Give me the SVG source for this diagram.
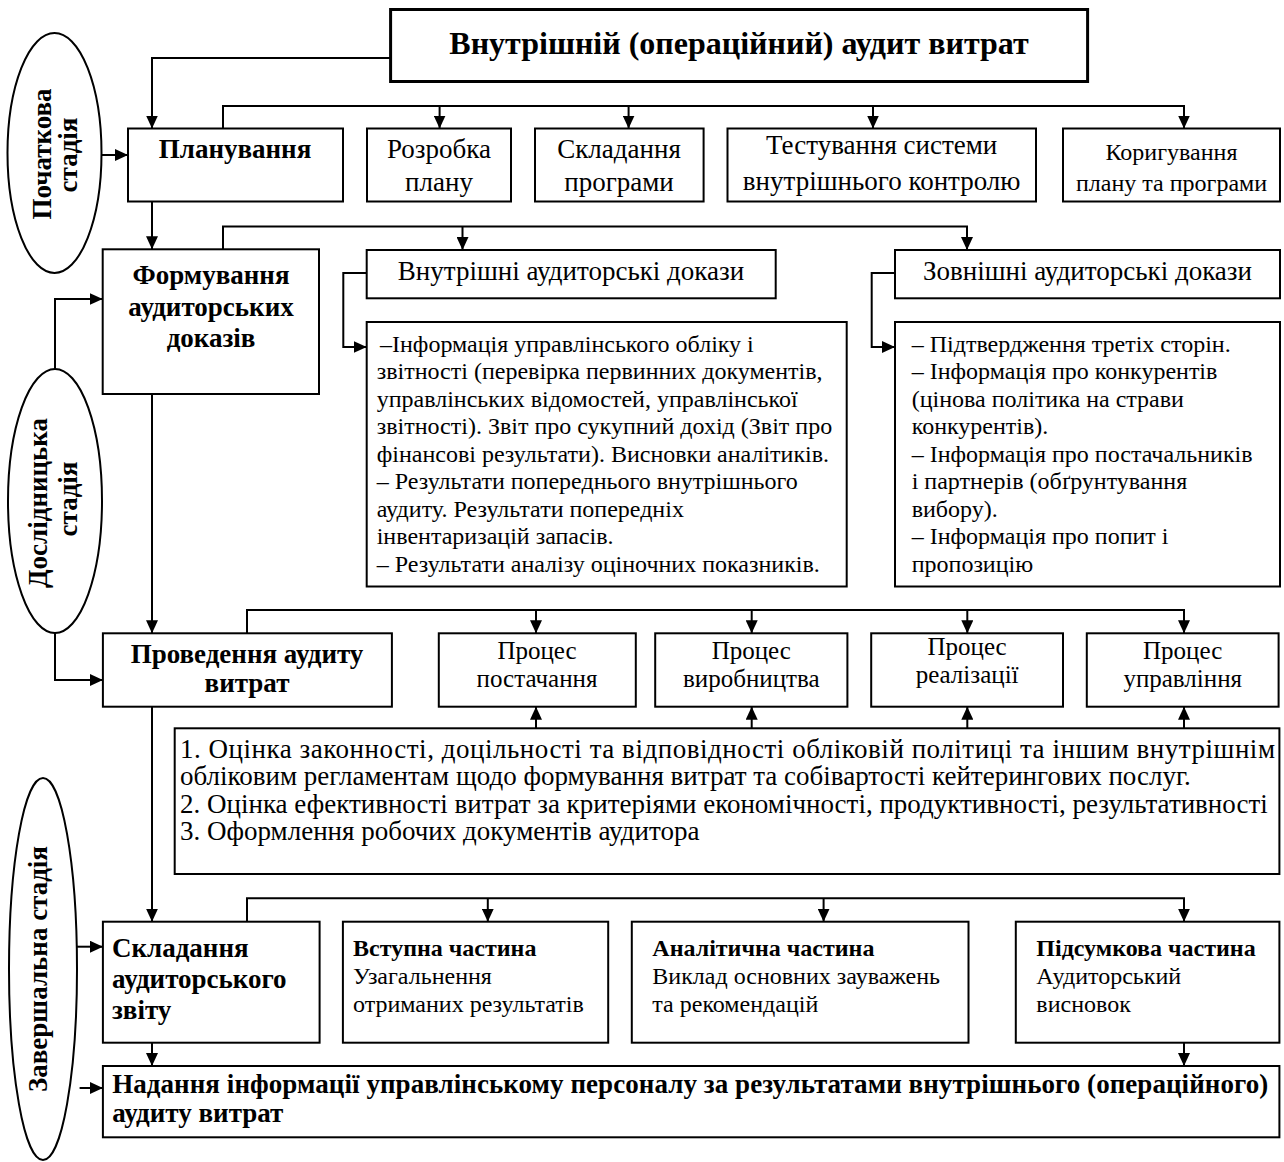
<svg xmlns="http://www.w3.org/2000/svg" width="1284" height="1162" viewBox="0 0 1284 1162">
<style>
.box{fill:#fff;stroke:#000;stroke-width:2}
.tb{stroke-width:3}
.ell{fill:#fff;stroke:#000;stroke-width:2}
.con{fill:none;stroke:#000;stroke-width:2}
.t{font-family:'Liberation Serif','Times New Roman',serif;font-size:24px;fill:#000}
.b{font-weight:bold;font-size:27px}
.c{text-anchor:middle}
.r1{font-size:27px}
.pr{font-size:25px}
.l{font-size:27px}
</style>
<defs>
<marker id="ah" viewBox="0 0 13 12" refX="13" refY="6" markerWidth="13" markerHeight="12" markerUnits="userSpaceOnUse" orient="auto"><path d="M0,0 L13,6 L0,12 z" fill="#000"/></marker>
</defs>
<rect width="1284" height="1162" fill="#fff"/>

<g id="connectors">
<path class="con" marker-end="url(#ah)" d="M390.6,58 H152 V128.5"/>
<path class="con" marker-end="url(#ah)" d="M102,155 H128"/>
<path class="con" marker-end="url(#ah)" d="M223,128.5 V106 H1184 V128.5"/>
<path class="con" marker-end="url(#ah)" d="M439.6,106 V128.5"/>
<path class="con" marker-end="url(#ah)" d="M628.6,106 V128.5"/>
<path class="con" marker-end="url(#ah)" d="M873,106 V128.5"/>
<path class="con" marker-end="url(#ah)" d="M152,201.5 V249.3"/>
<path class="con" marker-end="url(#ah)" d="M223,249.3 V226.5 H967 V250"/>
<path class="con" marker-end="url(#ah)" d="M462.5,226.5 V250"/>
<path class="con" marker-end="url(#ah)" d="M366.7,273 H343.3 V347 H366.7"/>
<path class="con" marker-end="url(#ah)" d="M895,273 H871.7 V347 H895"/>
<path class="con" marker-end="url(#ah)" d="M55,369 V299 H102.7"/>
<path class="con" marker-end="url(#ah)" d="M55,633 V680 H102.9"/>
<path class="con" marker-end="url(#ah)" d="M152,394 V633.3"/>
<path class="con" marker-end="url(#ah)" d="M247,633.3 V610 H1184 V633.3"/>
<path class="con" marker-end="url(#ah)" d="M536,610 V633.3"/>
<path class="con" marker-end="url(#ah)" d="M751.7,610 V633.3"/>
<path class="con" marker-end="url(#ah)" d="M967.3,610 V633.3"/>
<path class="con" marker-end="url(#ah)" d="M536,728.3 V706.7"/>
<path class="con" marker-end="url(#ah)" d="M751.7,728.3 V706.7"/>
<path class="con" marker-end="url(#ah)" d="M967.3,728.3 V706.7"/>
<path class="con" marker-end="url(#ah)" d="M1184,728.3 V706.7"/>
<path class="con" marker-end="url(#ah)" d="M152,706.7 V921.7"/>
<path class="con" marker-end="url(#ah)" d="M77,946.7 H102.9"/>
<path class="con" marker-end="url(#ah)" d="M79.6,1088 H102.9"/>
<path class="con" marker-end="url(#ah)" d="M247,921.7 V898.3 H1184 V921.7"/>
<path class="con" marker-end="url(#ah)" d="M487.8,898.3 V921.7"/>
<path class="con" marker-end="url(#ah)" d="M823.6,898.3 V921.7"/>
<path class="con" marker-end="url(#ah)" d="M152,1042.7 V1066"/>
<path class="con" marker-end="url(#ah)" d="M1184,1042.7 V1066"/>
</g>

<g id="stage-initial">
<ellipse class="ell" cx="54.5" cy="153" rx="47" ry="120"/>
<text class="t b c" transform="translate(51,154) rotate(-90)">Початкова</text>
<text class="t b c" transform="translate(77,155) rotate(-90)">стадія</text>
</g>
<g id="stage-research">
<ellipse class="ell" cx="55" cy="501" rx="47" ry="132"/>
<text class="t b c" transform="translate(47,503) rotate(-90)">Дослідницька</text>
<text class="t b c" transform="translate(77,499) rotate(-90)">стадія</text>
</g>
<g id="stage-final">
<ellipse class="ell" cx="43" cy="969" rx="34" ry="191"/>
<text class="t b c" transform="translate(47,969) rotate(-90)">Завершальна стадія</text>
</g>

<g id="title">
<rect class="box tb" x="390.6" y="9.5" width="697" height="72"/>
<text class="t b c" style="font-size:32px" x="739" y="54">Внутрішній (операційний) аудит витрат</text>
</g>

<g id="planning">
<rect class="box" x="128" y="128.5" width="215" height="73"/>
<text class="t b c" x="235" y="158">Планування</text>
</g>
<g id="plan-dev">
<rect class="box" x="367" y="128.5" width="144" height="73"/>
<text class="t r1 c" x="439" y="158">Розробка</text>
<text class="t r1 c" x="439" y="191">плану</text>
</g>
<g id="program">
<rect class="box" x="535" y="128.5" width="168.6" height="73"/>
<text class="t r1 c" x="619" y="158">Складання</text>
<text class="t r1 c" x="619" y="191">програми</text>
</g>
<g id="testing">
<rect class="box" x="727.5" y="128.5" width="308.5" height="73"/>
<text class="t r1 c" x="881.7" y="154">Тестування системи</text>
<text class="t r1 c" x="881.7" y="190">внутрішнього контролю</text>
</g>
<g id="correction">
<rect class="box" x="1063" y="128.5" width="217" height="73"/>
<text class="t c" x="1171.5" y="160">Коригування</text>
<text class="t c" x="1171.5" y="191">плану та програми</text>
</g>

<g id="evidence">
<rect class="box" x="102.7" y="249.3" width="216.3" height="144.7"/>
<text class="t b c" x="211" y="284">Формування</text>
<text class="t b c" x="211" y="316">аудиторських</text>
<text class="t b c" x="211" y="347">доказів</text>
</g>
<g id="internal">
<rect class="box" x="366.7" y="250" width="409" height="48.3"/>
<text class="t l c" x="571" y="280">Внутрішні аудиторські докази</text>
</g>
<g id="internal-list">
<rect class="box" x="366.7" y="322" width="480" height="264.5"/>
<text class="t" x="380" y="351.7">–Інформація управлінського обліку і</text>
<text class="t" x="376.7" y="379.2">звітності (перевірка первинних документів,</text>
<text class="t" x="376.7" y="406.7">управлінських відомостей, управлінської</text>
<text class="t" x="376.7" y="434.2">звітності). Звіт про сукупний дохід (Звіт про</text>
<text class="t" x="376.7" y="461.7">фінансові результати). Висновки аналітиків.</text>
<text class="t" x="376.7" y="489.2">– Результати попереднього внутрішнього</text>
<text class="t" x="376.7" y="516.7">аудиту. Результати попередніх</text>
<text class="t" x="376.7" y="544.2">інвентаризацій запасів.</text>
<text class="t" x="376.7" y="571.7">– Результати аналізу оціночних показників.</text>
</g>
<g id="external">
<rect class="box" x="895" y="250" width="385" height="48.3"/>
<text class="t l c" x="1087.5" y="280">Зовнішні аудиторські докази</text>
</g>
<g id="external-list">
<rect class="box" x="895" y="322" width="385" height="264.5"/>
<text class="t" x="911.7" y="351.7">– Підтвердження третіх сторін.</text>
<text class="t" x="911.7" y="379.2">– Інформація про конкурентів</text>
<text class="t" x="911.7" y="406.7">(цінова політика на страви</text>
<text class="t" x="911.7" y="434.2">конкурентів).</text>
<text class="t" x="911.7" y="461.7">– Інформація про постачальників</text>
<text class="t" x="911.7" y="489.2">і партнерів (обґрунтування</text>
<text class="t" x="911.7" y="516.7">вибору).</text>
<text class="t" x="911.7" y="544.2">– Інформація про попит і</text>
<text class="t" x="911.7" y="571.7">пропозицію</text>
</g>

<g id="audit">
<rect class="box" x="102.9" y="633.3" width="289" height="73.4"/>
<text class="t b c" x="247" y="662.5">Проведення аудиту</text>
<text class="t b c" x="247" y="692">витрат</text>
</g>
<g id="supply">
<rect class="box" x="438.8" y="633.3" width="197" height="73.4"/>
<text class="t pr c" x="537" y="659">Процес</text>
<text class="t pr c" x="537" y="687">постачання</text>
</g>
<g id="production">
<rect class="box" x="655.2" y="633.3" width="192.2" height="73.4"/>
<text class="t pr c" x="751.3" y="659">Процес</text>
<text class="t pr c" x="751.3" y="687">виробництва</text>
</g>
<g id="sales">
<rect class="box" x="871.2" y="633.3" width="191.8" height="73.4"/>
<text class="t pr c" x="967.1" y="655">Процес</text>
<text class="t pr c" x="967.1" y="683">реалізації</text>
</g>
<g id="management">
<rect class="box" x="1086.8" y="633.3" width="191.8" height="73.4"/>
<text class="t pr c" x="1182.7" y="659">Процес</text>
<text class="t pr c" x="1182.7" y="687">управління</text>
</g>
<g id="criteria">
<rect class="box" x="174.7" y="728.3" width="1104.7" height="145.7"/>
<text class="t l" x="180" y="757.5" textLength="1095" lengthAdjust="spacing">1. Оцінка законності, доцільності та відповідності обліковій політиці та іншим внутрішнім</text>
<text class="t l" x="180" y="785">обліковим регламентам щодо формування витрат та собівартості кейтерингових послуг.</text>
<text class="t l" x="180" y="812.5">2. Оцінка ефективності витрат за критеріями економічності, продуктивності, результативності</text>
<text class="t l" x="180" y="840">3. Оформлення робочих документів аудитора</text>
</g>

<g id="report">
<rect class="box" x="102.9" y="921.7" width="216.7" height="121"/>
<text class="t b" x="112" y="957">Складання</text>
<text class="t b" x="112" y="988">аудиторського</text>
<text class="t b" x="112" y="1018.5">звіту</text>
</g>
<g id="intro">
<rect class="box" x="342.9" y="921.7" width="265.3" height="121"/>
<text class="t" x="353" y="956"><tspan font-weight="bold">Вступна частина</tspan></text>
<text class="t" x="353" y="983.5">Узагальнення</text>
<text class="t" x="353" y="1011.5">отриманих результатів</text>
</g>
<g id="analytic">
<rect class="box" x="631.8" y="921.7" width="336.7" height="121"/>
<text class="t" x="652.3" y="956"><tspan font-weight="bold">Аналітична частина</tspan></text>
<text class="t" x="652.3" y="983.5">Виклад основних зауважень</text>
<text class="t" x="652.3" y="1011.5">та рекомендацій</text>
</g>
<g id="summary">
<rect class="box" x="1015.8" y="921.7" width="263.6" height="121"/>
<text class="t" x="1036.3" y="956"><tspan font-weight="bold">Підсумкова частина</tspan></text>
<text class="t" x="1036.3" y="983.5">Аудиторський</text>
<text class="t" x="1036.3" y="1011.5">висновок</text>
</g>
<g id="delivery">
<rect class="box" x="102.9" y="1066" width="1176.5" height="71.3"/>
<text class="t b" x="112.2" y="1093" textLength="1156" lengthAdjust="spacing">Надання інформації управлінському персоналу за результатами внутрішнього (операційного)</text>
<text class="t b" x="112.2" y="1122">аудиту витрат</text>
</g>
</svg>
